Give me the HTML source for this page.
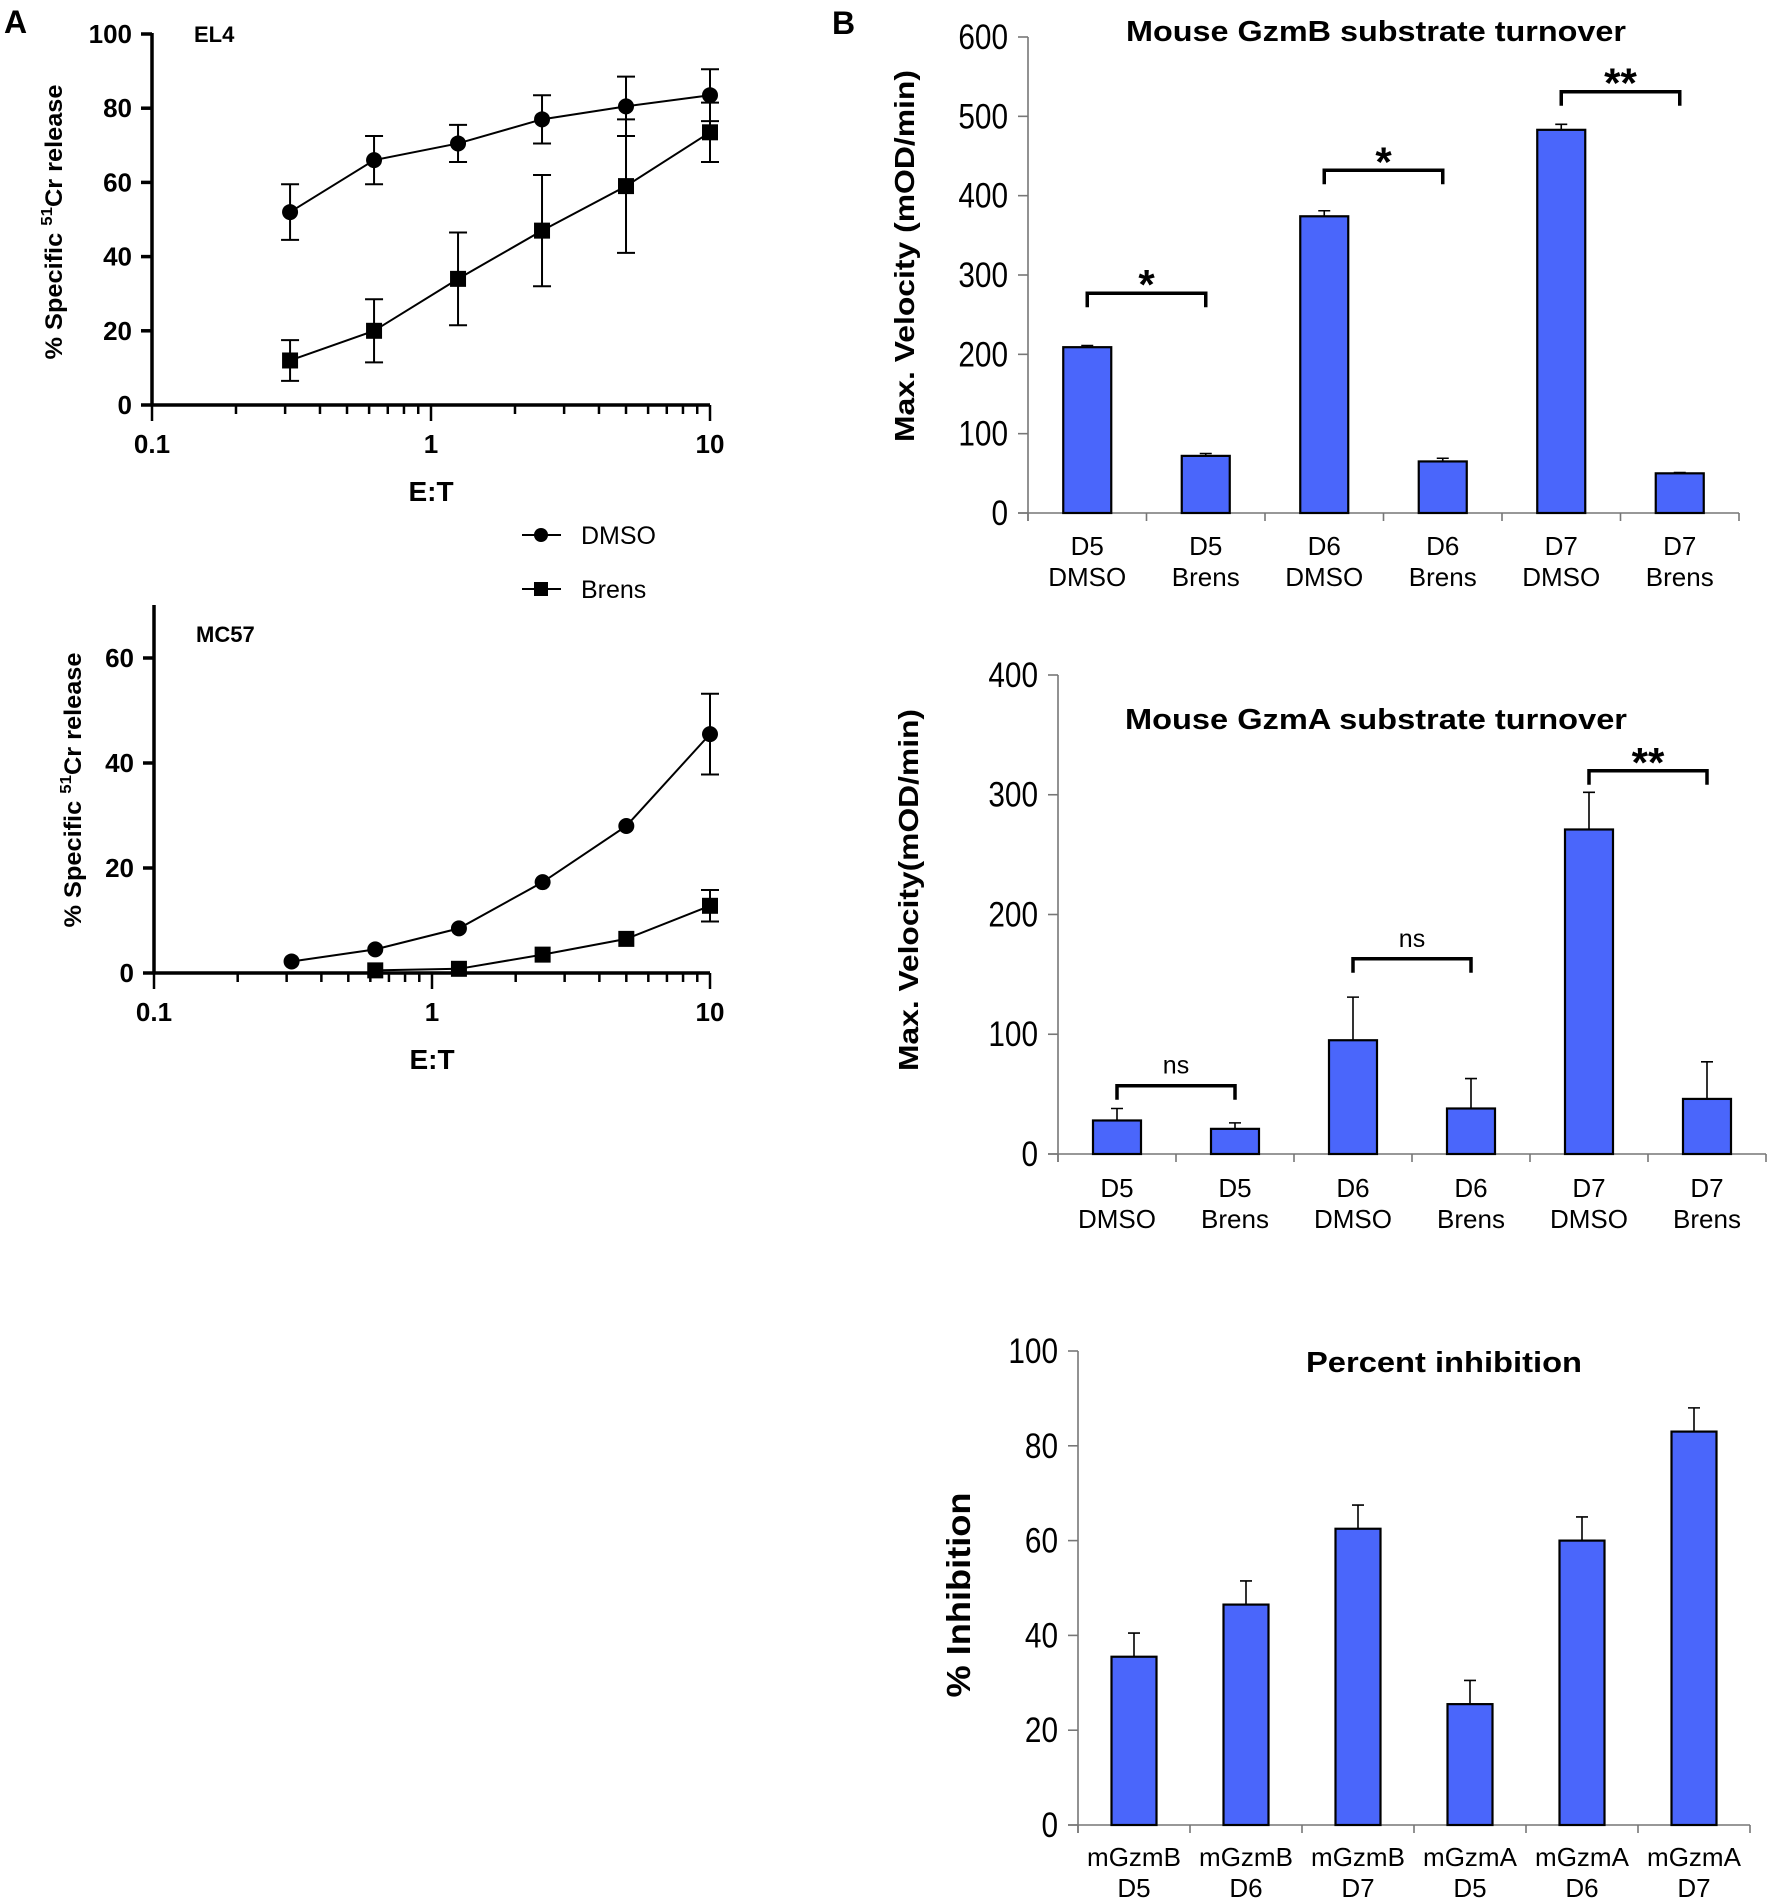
<!DOCTYPE html>
<html><head><meta charset="utf-8"><style>
html,body{margin:0;padding:0;background:#fff;}
svg{display:block;}
text{font-family:"Liberation Sans",sans-serif;}
</style></head>
<body>
<svg id="fig" xmlns="http://www.w3.org/2000/svg" width="1772" height="1900" viewBox="0 0 1772 1900">
<rect width="1772" height="1900" fill="#fff"/>
<text x="4" y="33" font-size="32" font-weight="bold">A</text>
<text x="832" y="34" font-size="32" font-weight="bold">B</text>
</svg>
<script>
// ---------- Panel A data ----------
const etRatios = [0.3125, 0.625, 1.25, 2.5, 5, 10];
const el4Dmso = [52, 66, 70.5, 77, 80.5, 83.5];
const el4DmsoErr = [7.5, 6.5, 5, 6.5, 8, 7];
const el4Brens = [12, 20, 34, 47, 59, 73.5];
const el4BrensErr = [5.5, 8.5, 12.5, 15, 18, 8];
const el4YTicks = [0, 20, 40, 60, 80, 100];
const mc57Ratios = [0.3125, 0.625, 1.25, 2.5, 5, 10];
const mc57Dmso = [2.2, 4.5, 8.5, 17.3, 28, 45.5];
const mc57DmsoErr = [0, 0, 0, 0, 0, 7.7];
const mc57BrensRatios = [0.625, 1.25, 2.5, 5, 10];
const mc57Brens = [0.5, 0.8, 3.5, 6.5, 12.8];
const mc57BrensErr = [0, 0, 0, 0, 3];
const mc57YTicks = [0, 20, 40, 60];
const xTickLabels = ["0.1", "1", "10"];
const xTickValues = [0.1, 1, 10];
// ---------- Panel B data ----------
const turnoverCats = [["D5","DMSO"],["D5","Brens"],["D6","DMSO"],["D6","Brens"],["D7","DMSO"],["D7","Brens"]];
const gzmbValues = [209, 72, 374, 65, 483, 50];
const gzmbErr = [2, 3, 7, 4, 7, 1];
const gzmbTicks = [0, 100, 200, 300, 400, 500, 600];
const gzmbBrackets = [[0, 1, 277, "*"], [2, 3, 432, "*"], [4, 5, 531, "**"]];
const gzmaValues = [28, 21, 95, 38, 271, 46];
const gzmaErr = [10, 5, 36, 25, 31, 31];
const gzmaTicks = [0, 100, 200, 300, 400];
const gzmaBrackets = [[0, 1, 57, "ns"], [2, 3, 163, "ns"], [4, 5, 320, "**"]];
const inhibCats = [["mGzmB","D5"],["mGzmB","D6"],["mGzmB","D7"],["mGzmA","D5"],["mGzmA","D6"],["mGzmA","D7"]];
const inhibValues = [35.5, 46.5, 62.5, 25.5, 60, 83];
const inhibErr = [5, 5, 5, 5, 5, 5];
const inhibTicks = [0, 20, 40, 60, 80, 100];

const NS = "http://www.w3.org/2000/svg";
const svg = document.getElementById("fig");
function mk(tag, attrs, parent, txt) {
  const e = document.createElementNS(NS, tag);
  for (const k in attrs) e.setAttribute(k, attrs[k]);
  if (txt !== undefined) e.textContent = txt;
  (parent || svg).appendChild(e);
  return e;
}

// ---------- Line chart (panel A) ----------
function lineChart(o) {
  const g = mk("g", {});
  
  
  const sx = v => o.x0 + (Math.log10(v) + 1) * o.dec;
  const sy = v => o.y0 - v * o.ppu;
  const ax = mk("g", {stroke: "#000", "stroke-width": 3.5, fill: "none"}, g);
  
  
  mk("line", {x1: o.x0, y1: o.yTop, x2: o.x0, y2: o.y0 + 1.5}, ax);
  mk("line", {x1: o.x0 - 1.5, y1: o.y0, x2: sx(10), y2: o.y0}, ax);
  o.yTicks.forEach(t => {
    mk("line", {x1: o.x0 - 11, y1: sy(t), x2: o.x0, y2: sy(t)}, ax);
    const tl = mk("text", {x: o.x0 - 20, y: sy(t) + 9, "font-size": 26, "font-weight": "bold", "text-anchor": "end", stroke: "none", fill: "#000"}, g, String(t));
    
    
  });
  for (let d = 0; d < 2; d++) for (let m = 1; m <= 10; m++) {
    const v = Math.pow(10, d - 1) * m;
    if (m === 1 && d > 0) continue;
    const major = (m === 1 || m === 10);
    mk("line", {x1: sx(v), y1: o.y0, x2: sx(v), y2: o.y0 + (major ? 16 : 9), "stroke-width": 2.5}, ax);
  }
  xTickValues.forEach((v, i) => {
    const tl = mk("text", {x: sx(v), y: o.y0 + 48, "font-size": 26, "font-weight": "bold", "text-anchor": "middle"}, g, xTickLabels[i]);
    
    
  });
  const xt = mk("text", {x: sx(1), y: o.y0 + 96, "font-size": 28, "font-weight": "bold", "text-anchor": "middle"}, g, "E:T");
  
  
  const yt = mk("text", {transform: `translate(${o.ytx},${o.yty}) rotate(-90)`, "font-size": 24, "font-weight": "bold", "text-anchor": "middle", textLength: 275, lengthAdjust: "spacingAndGlyphs"}, g);
  
  
  mk("tspan", {}, yt, "%  Specific ");
  mk("tspan", {"font-size": 16, dy: -10}, yt, "51");
  mk("tspan", {dy: 10}, yt, "Cr release");
  const lab = mk("text", {x: o.x0 + 42, y: o.labY, "font-size": 22, "font-weight": "bold"}, g, o.label);
  
  
  o.series.forEach(s => {
    const sg = mk("g", {}, g);
    
    
    mk("polyline", {points: s.x.map((x, i) => sx(x) + "," + sy(s.y[i])).join(" "), fill: "none", stroke: "#000", "stroke-width": 2}, sg);
    s.x.forEach((x, i) => {
      const e = s.err[i], cx = sx(x);
      if (e > 0) {
        const eb = mk("path", {d: `M${cx},${sy(s.y[i] + e)}V${sy(s.y[i] - e)}M${cx - 9},${sy(s.y[i] + e)}h18M${cx - 9},${sy(s.y[i] - e)}h18`, stroke: "#000", "stroke-width": 2, fill: "none"}, sg);
        
        
      }
      let m;
      if (s.shape === "circle") m = mk("circle", {cx: cx, cy: sy(s.y[i]), r: 8, fill: "#000"}, sg);
      else m = mk("rect", {x: cx - 8, y: sy(s.y[i]) - 8, width: 16, height: 16, fill: "#000"}, sg);
      
      
    });
  });
}
lineChart({name: "el4-chart", x0: 152, y0: 405, yTop: 33, ppu: 3.71, dec: 279, yTicks: el4YTicks, ytx: 62, yty: 222, label: "EL4", labY: 42,
  series: [{name: "el4-dmso-series", shape: "circle", x: etRatios, y: el4Dmso, err: el4DmsoErr},
           {name: "el4-brens-series", shape: "square", x: etRatios, y: el4Brens, err: el4BrensErr}]});
lineChart({name: "mc57-chart", x0: 154, y0: 973, yTop: 605, ppu: 5.25, dec: 278, yTicks: mc57YTicks, ytx: 81, yty: 790, label: "MC57", labY: 642,
  series: [{name: "mc57-dmso-series", shape: "circle", x: mc57Ratios, y: mc57Dmso, err: mc57DmsoErr},
           {name: "mc57-brens-series", shape: "square", x: mc57BrensRatios, y: mc57Brens, err: mc57BrensErr}]});
// legend
const leg = mk("g", {});


[["DMSO", "circle", 535], ["Brens", "square", 589]].forEach(l => {
  const lg = mk("g", {}, leg);
  
  
  mk("line", {x1: 522, y1: l[2], x2: 561, y2: l[2], stroke: "#000", "stroke-width": 2}, lg);
  if (l[1] === "circle") mk("circle", {cx: 541, cy: l[2], r: 7, fill: "#000"}, lg);
  else mk("rect", {x: 534, y: l[2] - 7, width: 14, height: 14, fill: "#000"}, lg);
  mk("text", {x: 581, y: l[2] + 9, "font-size": 25}, lg, l[0]);
});

// ---------- Bar charts (panel B) ----------
function barChart(o) {
  const g = mk("g", {});
  
  
  const n = o.values.length, cw = (o.xEnd - o.x0) / n;
  const sy = v => o.y0 - (v / o.max) * (o.y0 - o.yTop);
  const cx = i => o.x0 + cw * (i + 0.5);
  const ax = mk("g", {stroke: "#777", "stroke-width": 1.6}, g);
  
  
  mk("line", {x1: o.x0, y1: o.yTop, x2: o.x0, y2: o.y0 + 8}, ax);
  mk("line", {x1: o.x0 - 10, y1: o.y0, x2: o.xEnd, y2: o.y0}, ax);
  for (let i = 0; i <= n; i++) mk("line", {x1: o.x0 + cw * i, y1: o.y0, x2: o.x0 + cw * i, y2: o.y0 + 8}, ax);
  o.ticks.forEach(t => {
    const xr = o.x0 - 20;
    mk("line", {x1: o.x0 - 10, y1: sy(t), x2: o.x0, y2: sy(t)}, ax);
    const tl = mk("text", {x: xr, y: sy(t) + 12, "font-size": 35, "text-anchor": "end", transform: `translate(${xr * 0.15},0) scale(0.85,1)`}, g, String(t));
    
    
  });
  o.cats.forEach((c, i) => {
    const t1 = mk("text", {x: cx(i), y: o.y0 + o.lab1, "font-size": 26, "text-anchor": "middle"}, g, c[0]);
    
    
    const t2 = mk("text", {x: cx(i), y: o.y0 + o.lab1 + 31, "font-size": 26, "text-anchor": "middle"}, g, c[1]);
    
    
  });
  o.values.forEach((v, i) => {
    const top = sy(v + o.err[i]);
    const eb = mk("path", {d: `M${cx(i)},${sy(v)}V${top}M${cx(i) - 6},${top}h12`, stroke: "#000", "stroke-width": 1.6, fill: "none"}, g);
    
    
    const b = mk("rect", {x: cx(i) - o.bw / 2, y: sy(v), width: o.bw, height: o.y0 - sy(v), fill: "#4a66fb", stroke: "#000", "stroke-width": 2.2}, g);
    
    
  });
  (o.brackets || []).forEach(br => {
    const y = sy(br[2]), x1 = cx(br[0]), x2 = cx(br[1]);
    const p = mk("path", {d: `M${x1},${y + 14}V${y}H${x2}V${y + 14}`, stroke: "#000", "stroke-width": 3.5, fill: "none"}, g);
    
    
    const st = br[3] === "ns";
    const t = mk("text", {x: (x1 + x2) / 2, y: y - (st ? 12 : -6), "font-size": st ? 25 : 42, "font-weight": st ? "normal" : "bold", "text-anchor": "middle"}, g, br[3]);
    
    
  });
  const ti = mk("text", {x: o.titleX, y: o.titleY, "font-size": 29, "font-weight": "bold", "text-anchor": "middle", textLength: o.titleW, lengthAdjust: "spacingAndGlyphs"}, g, o.title);
  
  
  const yt = mk("text", {transform: `translate(${o.ytx},${o.yty}) rotate(-90)`, "font-size": o.ytSize, "font-weight": "bold", "text-anchor": "middle", textLength: o.ytW, lengthAdjust: "spacingAndGlyphs"}, g, o.yTitle);
  
  
}
barChart({name: "gzmb-chart", x0: 1028, xEnd: 1739, y0: 513, yTop: 37, max: 600, bw: 48, values: gzmbValues, err: gzmbErr, ticks: gzmbTicks, cats: turnoverCats, brackets: gzmbBrackets,
  lab1: 42, title: "Mouse GzmB substrate turnover", titleX: 1376, titleY: 41, titleW: 500, yTitle: "Max. Velocity (mOD/min)", ytx: 914, yty: 256, ytSize: 28, ytW: 372});
barChart({name: "gzma-chart", x0: 1058, xEnd: 1766, y0: 1154, yTop: 675, max: 400, bw: 48, values: gzmaValues, err: gzmaErr, ticks: gzmaTicks, cats: turnoverCats, brackets: gzmaBrackets,
  lab1: 43, title: "Mouse GzmA substrate turnover", titleX: 1376, titleY: 729, titleW: 502, yTitle: "Max. Velocity(mOD/min)", ytx: 918, yty: 890, ytSize: 28, ytW: 362});
barChart({name: "inhibition-chart", x0: 1078, xEnd: 1750, y0: 1825, yTop: 1351, max: 100, bw: 45, values: inhibValues, err: inhibErr, ticks: inhibTicks, cats: inhibCats,
  lab1: 41, title: "Percent inhibition", titleX: 1444, titleY: 1372, titleW: 276, yTitle: "% Inhibition", ytx: 970, yty: 1595, ytSize: 33, ytW: 205});
</script>
</body></html>
